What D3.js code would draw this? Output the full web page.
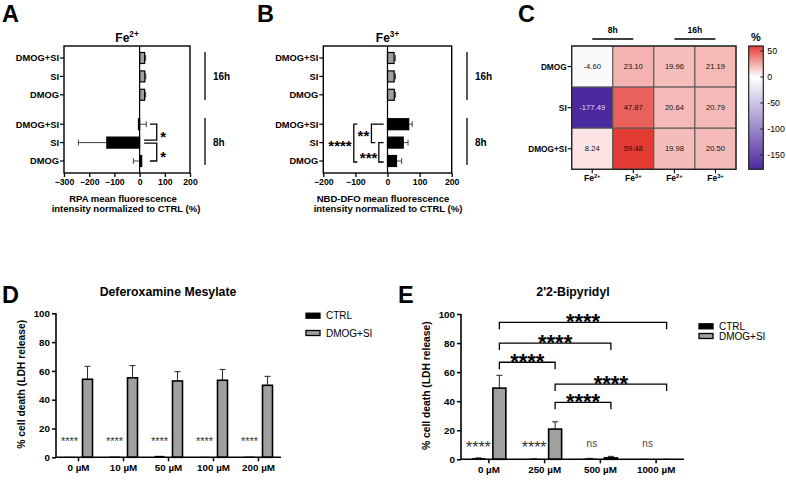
<!DOCTYPE html>
<html><head><meta charset="utf-8">
<script src="https://cdn.jsdelivr.net/npm/d3@7"></script>
<style>
body{margin:0;background:#fff;}
svg{display:block;font-family:"Liberation Sans",Arial,sans-serif;}
</style></head>
<body><svg id="c" width="786" height="480"></svg>
<script>
// ---------- DATA ----------
const rowLabels = ["DMOG+SI", "SI", "DMOG"];          // top to bottom within each time block
const timeBlocks = ["16h", "8h"];
// Panel A: Fe2+ (RPA)
const fe2_16h = [19.98, 20.64, 19.96];
const fe2_16h_err = [4, 4, 4];
const fe2_8h = [-4.6, -130, 8.24];
const fe2_8h_err = [31, -113, -33];                   // signed: direction of whisker
const fe2Ticks = [-300, -200, -100, 0, 100, 200];
// Panel B: Fe3+ (NBD-DFO)
const fe3_16h = [20.5, 20.79, 21.19];
const fe3_16h_err = [4, 4, 4];
const fe3_8h = [66, 49, 28];
const fe3_8h_err = [11, 15, 16];
const fe3Ticks = [-200, -100, 0, 100, 200];
// Panel C: heatmap
const hmRows = ["DMOG", "SI", "DMOG+SI"];
const hmColIons = ["2+", "3+", "2+", "3+"];
const hmTimes = ["8h", "16h"];
const hmValues = [
  [-4.60, 23.10, 19.96, 21.19],
  [-177.49, 47.87, 20.64, 20.79],
  [8.24, 59.48, 19.98, 20.50]
];
const hmTicks = [50, 0, -50, -100, -150];
// Panel D: Deferoxamine Mesylate
const dfoDoses = ["0 µM", "10 µM", "50 µM", "100 µM", "200 µM"];
const dfoCtrl = [0.3, 0.5, 1.0, 0.3, 0.5];
const dfoDmogSi = [54.2, 55.2, 53, 53.5, 50];
const dfoDmogSiErr = [9, 8.5, 6.5, 7.5, 6.2];
const dfoSig = ["****", "****", "****", "****", "****"];
// Panel E: 2'2-Bipyridyl
const bipDoses = ["0 µM", "250 µM", "500 µM", "1000 µM"];
const bipCtrl = [0.8, 0.3, 0.5, 0];
const bipCtrlErr = [0.3, 0.1, 0.2, 0];
const bipDmogSi = [49, 20.8, 1, 0];
const bipDmogSiErr = [8.8, 5, 1, 0];
const bipSig = ["****", "****", "ns", "ns"];
const bipComparisons = [ // [from, to, label, bracket level (%)]
  [0, 3, "****", 94.3],
  [0, 2, "****", 80],
  [0, 1, "****", 66.8],
  [1, 3, "****", 51.8],
  [1, 2, "****", 39.2]
];
const yTicks = [0, 20, 40, 60, 80, 100];
const legendItems = ["CTRL", "DMOG+SI"];

// ---------- DRAW ----------
const svg = d3.select("#c");
svg.append("rect").attr("width", 786).attr("height", 480).attr("fill", "#fff");
const GREY = "#a0a0a0";

function supText(g, x, y, base, sup, size, weight, anchor) {
  const t = g.append("text").attr("x", x).attr("y", y).attr("font-size", size)
    .attr("font-weight", weight || "bold").attr("text-anchor", anchor || "middle");
  t.append("tspan").text(base);
  t.append("tspan").attr("dy", -size * 0.4).attr("font-size", size * 0.68).text(sup);
  return t;
}
function star(g, x, cy, label, fs, weight, fill) {
  g.append("text").attr("x", x).attr("y", cy + fs * 0.58).attr("text-anchor", "middle")
    .attr("font-size", fs).attr("font-weight", weight || "bold").attr("fill", fill || "#000").text(label);
}

// panel letters
[["A", 2, 22], ["B", 257, 22], ["C", 518, 22], ["D", 2, 303], ["E", 398, 303]].forEach(([l, x, y]) =>
  svg.append("text").attr("x", x).attr("y", y).attr("font-size", 23.5).attr("font-weight", "bold").text(l));

// ---- horizontal bar panels A & B ----
function hPanel(cfg) {
  const g = svg.append("g");
  const x = d3.scaleLinear().domain(cfg.domain).range([cfg.x0, cfg.x1]);
  const slot = d3.scaleLinear().domain([0, 5.6]).range([58, 161]);
  const slots16 = [0, 1, 2], slots8 = [3.6, 4.6, 5.6];
  const top = 46, bottom = 173, bh = 11;
  supText(g, (cfg.x0 + cfg.x1) / 2, 42, "Fe", cfg.ion, 12);
  function bars(vals, errs, slots, fill) {
    vals.forEach((v, i) => {
      const y = slot(slots[i]);
      const e = v + errs[i];
      g.append("line").attr("x1", x(v)).attr("x2", x(e)).attr("y1", y).attr("y2", y)
        .attr("stroke", "#444").attr("stroke-width", 1);
      g.append("line").attr("x1", x(e)).attr("x2", x(e)).attr("y1", y - 3).attr("y2", y + 3)
        .attr("stroke", "#444").attr("stroke-width", 1);
      g.append("rect").attr("x", Math.min(x(0), x(v))).attr("y", y - bh / 2)
        .attr("width", Math.abs(x(v) - x(0))).attr("height", bh)
        .attr("fill", fill).attr("stroke", "#000").attr("stroke-width", 1.2);
    });
  }
  bars(cfg.v16, cfg.e16, slots16, GREY);
  bars(cfg.v8, cfg.e8, slots8, "#000");
  g.append("line").attr("x1", x(0)).attr("x2", x(0)).attr("y1", top).attr("y2", bottom)
    .attr("stroke", "#000").attr("stroke-width", 1.2);
  g.append("rect").attr("x", cfg.x0).attr("y", top).attr("width", cfg.x1 - cfg.x0).attr("height", bottom - top)
    .attr("fill", "none").attr("stroke", "#000").attr("stroke-width", 1.4);
  const ax = g.append("g").attr("transform", `translate(0,${bottom})`)
    .call(d3.axisBottom(x).tickValues(cfg.ticks).tickSize(4).tickPadding(2).tickFormat(d3.format("d")));
  ax.select(".domain").remove();
  ax.selectAll("line").attr("stroke-width", 1.3);
  ax.selectAll("text").attr("font-size", 8.7).attr("font-weight", "bold").attr("font-family", "Liberation Sans, Arial, sans-serif");
  [...slots16, ...slots8].forEach((s, i) => {
    const y = slot(s);
    g.append("line").attr("x1", cfg.x0 - 4).attr("x2", cfg.x0).attr("y1", y).attr("y2", y)
      .attr("stroke", "#000").attr("stroke-width", 1.2);
    g.append("text").attr("x", cfg.x0 - 5).attr("y", y + 3.3).attr("text-anchor", "end")
      .attr("font-size", 9.3).attr("font-weight", "bold").text(rowLabels[i % 3]);
  });
  [[52, 100, timeBlocks[0], 80], [118, 165, timeBlocks[1], 146]].forEach(([y1, y2, t, ty]) => {
    g.append("line").attr("x1", cfg.tx).attr("x2", cfg.tx).attr("y1", y1).attr("y2", y2)
      .attr("stroke", "#000").attr("stroke-width", 1.3);
    g.append("text").attr("x", cfg.tx + 8).attr("y", ty).attr("font-size", 10).attr("font-weight", "bold").text(t);
  });
  cfg.title.forEach((t, i) =>
    g.append("text").attr("x", cfg.titleX[i]).attr("y", 201.5 + i * 10.5).attr("text-anchor", "middle")
      .attr("font-size", 9.5).attr("font-weight", "bold").text(t));
  return { g, x, slot, slots8 };
}

const A = hPanel({ domain: [-300, 200], x0: 64, x1: 190, ticks: fe2Ticks, ion: "2+",
  v16: fe2_16h, e16: fe2_16h_err, v8: fe2_8h, e8: fe2_8h_err, tx: 205,
  title: ["RPA mean fluorescence", "intensity normalized to CTRL (%)"], titleX: [123, 126] });
(function () {
  const { g, x, slot, slots8 } = A;
  const yT = slot(slots8[0]), yM = slot(slots8[1]), yB = slot(slots8[2]);
  const xv = x(68);
  const path = (pts) => g.append("path").attr("d", d3.line()(pts)).attr("fill", "none")
    .attr("stroke", "#000").attr("stroke-width", 1.3);
  path([[x(41), yT], [xv, yT], [xv, yM - 2.5], [x(18), yM - 2.5]]);
  path([[x(18), yM + 0.5], [xv, yM + 0.5], [xv, yB], [x(41), yB]]);
  star(g, x(94), (yT + yM) / 2, "*", 15);
  star(g, x(94), (yM + yB) / 2 + 1, "*", 15);
})();

const B = hPanel({ domain: [-200, 200], x0: 323.3, x1: 451.7, ticks: fe3Ticks, ion: "3+",
  v16: fe3_16h, e16: fe3_16h_err, v8: fe3_8h, e8: fe3_8h_err, tx: 467,
  title: ["NBD-DFO mean fluorescence", "intensity normalized to CTRL (%)"], titleX: [383, 388] });
(function () {
  const { g, x, slot, slots8 } = B;
  const yT = slot(slots8[0]), yM = slot(slots8[1]), yB = slot(slots8[2]);
  const path = (pts) => g.append("path").attr("d", d3.line()(pts)).attr("fill", "none")
    .attr("stroke", "#000").attr("stroke-width", 1.3);
  path([[x(-94), yT], [x(-105), yT], [x(-105), yB + 1], [x(-94), yB + 1]]);
  path([[x(-12), yT], [x(-50), yT], [x(-50), yM], [x(-38), yM]]);
  path([[x(-12), yM], [x(-27), yM], [x(-27), yB + 1], [x(-12), yB + 1]]);
  star(g, x(-148), yM, "****", 15);
  star(g, x(-75), (yT + yM) / 2 - 1, "**", 15);
  star(g, x(-59), (yM + yB) / 2 + 2, "***", 15);
})();

// ---- Panel C heatmap ----
(function () {
  const g = svg.append("g");
  const x0 = 571.7, x1 = 736, y0 = 46, y1 = 169.3;
  const xb = d3.scaleBand().domain(d3.range(hmColIons.length)).range([x0, x1]);
  const yb = d3.scaleBand().domain(hmRows).range([y0, y1]);
  const vmin = d3.min(hmValues.flat()), vmax = d3.max(hmValues.flat());
  const color = d3.scaleLinear().domain([vmin, 0, vmax]).range(["#4a2a9e", "#ffffff", "#e23b33"]);
  hmValues.forEach((row, r) => row.forEach((v, c) => {
    g.append("rect").attr("x", xb(c)).attr("y", yb(hmRows[r])).attr("width", xb.bandwidth()).attr("height", yb.bandwidth())
      .attr("fill", color(v)).attr("stroke", "#555").attr("stroke-width", 1);
    g.append("text").attr("x", xb(c) + xb.bandwidth() / 2).attr("y", yb(hmRows[r]) + yb.bandwidth() / 2 + 2.7)
      .attr("text-anchor", "middle").attr("font-size", 7.6)
      .attr("fill", v < -100 ? "#e0dcf4" : "#111").text(v.toFixed(2));
  }));
  g.append("rect").attr("x", x0).attr("y", y0).attr("width", x1 - x0).attr("height", y1 - y0)
    .attr("fill", "none").attr("stroke", "#222").attr("stroke-width", 1.3);
  hmRows.forEach(rw => {
    const y = yb(rw) + yb.bandwidth() / 2;
    g.append("line").attr("x1", x0 - 4).attr("x2", x0).attr("y1", y).attr("y2", y).attr("stroke", "#000").attr("stroke-width", 1.1);
    g.append("text").attr("x", x0 - 5).attr("y", y + 3).attr("text-anchor", "end").attr("font-size", 8.3)
      .attr("font-weight", "bold").text(rw);
  });
  hmColIons.forEach((ion, c) => {
    const cx = xb(c) + xb.bandwidth() / 2;
    g.append("line").attr("x1", cx).attr("x2", cx).attr("y1", y1).attr("y2", y1 + 4).attr("stroke", "#000").attr("stroke-width", 1.1);
    supText(g, cx, 181, "Fe", ion, 8.5);
  });
  hmTimes.forEach((t, i) => {
    const cx = (xb(i * 2) + xb(i * 2 + 1) + xb.bandwidth()) / 2;
    g.append("text").attr("x", cx).attr("y", 33).attr("text-anchor", "middle").attr("font-size", 8.5)
      .attr("font-weight", "bold").text(t);
    g.append("line").attr("x1", cx - 20.5).attr("x2", cx + 20.5).attr("y1", 39).attr("y2", 39)
      .attr("stroke", "#000").attr("stroke-width", 1.3);
  });
  const cbx = 748.7, cbw = 14.6;
  const cy = d3.scaleLinear().domain([vmin, vmax]).range([y1, y0]);
  const grad = svg.append("defs").append("linearGradient").attr("id", "cbg")
    .attr("x1", 0).attr("y1", 1).attr("x2", 0).attr("y2", 0);
  [vmin, 0, vmax].forEach(v => grad.append("stop").attr("offset", (v - vmin) / (vmax - vmin)).attr("stop-color", color(v)));
  g.append("rect").attr("x", cbx).attr("y", y0).attr("width", cbw).attr("height", y1 - y0)
    .attr("fill", "url(#cbg)").attr("stroke", "#222").attr("stroke-width", 1.2);
  hmTicks.forEach(t => {
    g.append("line").attr("x1", cbx + cbw - 3).attr("x2", cbx + cbw).attr("y1", cy(t)).attr("y2", cy(t)).attr("stroke", "#222");
    g.append("text").attr("x", cbx + cbw + 4).attr("y", cy(t) + 3).attr("font-size", 8.8).text(t);
  });
  g.append("text").attr("x", cbx + cbw / 2).attr("y", 41).attr("text-anchor", "middle")
    .attr("font-size", 11).attr("font-weight", "bold").text("%");
})();

// ---- vertical bar panels D & E ----
function vPanel(cfg) {
  const g = svg.append("g");
  const x = d3.scaleBand().domain(cfg.doses).range([cfg.x0, cfg.x1]);
  const y = d3.scaleLinear().domain([0, 100]).range([cfg.yb, cfg.yt]);
  const off = cfg.off, bw = cfg.bw;
  const cx = (d, s) => x(d) + x.bandwidth() / 2 + s * off;
  g.append("text").attr("x", cfg.titleX).attr("y", 296).attr("text-anchor", "middle")
    .attr("font-size", 12.3).attr("font-weight", "bold").text(cfg.title);
  cfg.doses.forEach((d, i) => {
    if (cfg.ctrlErr) {
      const e = cfg.ctrl[i] + cfg.ctrlErr[i];
      g.append("line").attr("x1", cx(d, -1)).attr("x2", cx(d, -1)).attr("y1", y(cfg.ctrl[i])).attr("y2", y(e)).attr("stroke", "#555");
      g.append("line").attr("x1", cx(d, -1) - 3).attr("x2", cx(d, -1) + 3).attr("y1", y(e)).attr("y2", y(e)).attr("stroke", "#555");
    }
    g.append("rect").attr("x", cx(d, -1) - bw / 2).attr("y", y(cfg.ctrl[i])).attr("width", bw)
      .attr("height", y(0) - y(cfg.ctrl[i])).attr("fill", "#000");
    const v = cfg.trt[i], e = v + cfg.trtErr[i];
    g.append("line").attr("x1", cx(d, 1)).attr("x2", cx(d, 1)).attr("y1", y(v)).attr("y2", y(e)).attr("stroke", "#333").attr("stroke-width", 1.1);
    g.append("line").attr("x1", cx(d, 1) - 3).attr("x2", cx(d, 1) + 3).attr("y1", y(e)).attr("y2", y(e)).attr("stroke", "#333").attr("stroke-width", 1.1);
    g.append("rect").attr("x", cx(d, 1) - bw / 2).attr("y", y(v)).attr("width", bw)
      .attr("height", y(0) - y(v)).attr("fill", GREY).attr("stroke", "#000").attr("stroke-width", v > 0.5 ? 1.6 : 0.8);
    const lab = cfg.sig[i];
    if (lab === "ns") {
      g.append("text").attr("x", cx(d, -1) + cfg.nsShift).attr("y", 446.5).attr("text-anchor", "middle")
        .attr("font-size", 10).attr("fill", "#444").text(lab);
    } else {
      star(g, cx(d, -1), cfg.sigY, lab, cfg.sigFs, "normal", "#333");
    }
  });
  const ay = g.append("g").attr("transform", `translate(${cfg.x0},0)`)
    .call(d3.axisLeft(y).tickValues(yTicks).tickSize(4).tickPadding(2));
  const axx = g.append("g").attr("transform", `translate(0,${cfg.yb})`)
    .call(d3.axisBottom(x).tickSize(4).tickPadding(3));
  [ay, axx].forEach(a => {
    a.select(".domain").attr("stroke-width", 1.6);
    a.selectAll("line").attr("stroke-width", 1.5);
    a.selectAll("text").attr("font-size", 9.8).attr("font-weight", "bold").attr("font-family", "Liberation Sans, Arial, sans-serif");
  });
  axx.select(".domain").attr("d", `M${cfg.x0},0H${cfg.x1}`);
  ay.select(".domain").attr("d", `M0,${cfg.yb}V${cfg.yt}`);
  g.append("text").attr("transform", `translate(${cfg.ytX},${(cfg.yb + cfg.yt) / 2 - 1}) rotate(-90)`)
    .attr("text-anchor", "middle").attr("font-size", 10.3).attr("font-weight", "bold").text("% cell death (LDH release)");
  legendItems.forEach((l, i) => {
    const ly = cfg.legY[i];
    g.append("rect").attr("x", cfg.legX).attr("y", ly - 2.5).attr("width", 14).attr("height", 5)
      .attr("fill", i === 0 ? "#000" : GREY).attr("stroke", "#000").attr("stroke-width", 1.3);
    g.append("text").attr("x", cfg.legX + 20).attr("y", ly + 3.6).attr("font-size", 10).text(l);
  });
  return { g, x, y, cx };
}

vPanel({ doses: dfoDoses, x0: 56, x1: 281, yb: 457.3, yt: 313.3, off: 9, bw: 10,
  ctrl: dfoCtrl, trt: dfoDmogSi, trtErr: dfoDmogSiErr, sig: dfoSig, sigY: 439, sigFs: 11, nsShift: 0,
  title: "Deferoxamine Mesylate", titleX: 168, ytX: 25, legX: 306, legY: [315.7, 333] });

const E = vPanel({ doses: bipDoses, x0: 461, x1: 684, yb: 459.3, yt: 314, off: 10.5, bw: 13,
  ctrl: bipCtrl, ctrlErr: bipCtrlErr, trt: bipDmogSi, trtErr: bipDmogSiErr, sig: bipSig, sigY: 443.3, sigFs: 16, nsShift: 2,
  title: "2'2-Bipyridyl", titleX: 573, ytX: 430, legX: 699, legY: [326.3, 336] });
(function () {
  const { g, y, cx } = E;
  bipComparisons.forEach(([a, b, lab, lvl]) => {
    const xa = cx(bipDoses[a], 1), xb2 = cx(bipDoses[b], 1), yy = y(lvl);
    g.append("path").attr("d", d3.line()([[xa, yy + 7], [xa, yy], [xb2, yy], [xb2, yy + 7]]))
      .attr("fill", "none").attr("stroke", "#000").attr("stroke-width", 1.3);
    star(g, (xa + xb2) / 2, yy - 6, lab, 22);
  });
})();
</script></body></html>
